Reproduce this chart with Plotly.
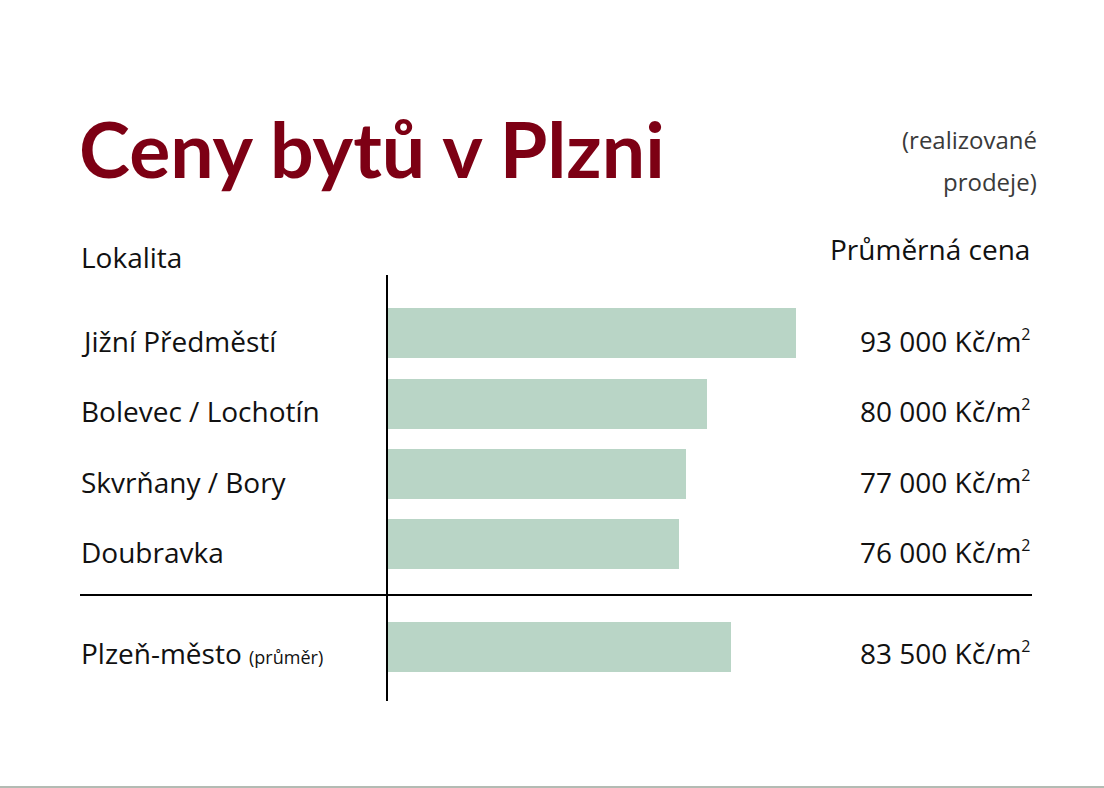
import plotly.graph_objects as go

# ---- data ----
locations = ["Jižní Předměstí", "Bolevec / Lochotín", "Skvrňany / Bory", "Doubravka"]
prices = [93000, 80000, 77000, 76000]
avg_label = "Plzeň-město"
avg_note = "(průměr)"
avg_price = 83500

title_text = "Ceny bytů v Plzni"
subtitle_lines = ["(realizované", "prodeje)"]
col_left = "Lokalita"
col_right = "Průměrná cena"
unit = " Kč/m<sup><span style='font-size:16px'>2</span></sup>"

# ---- style ----
W, H = 1104, 788
BAR = "#b9d5c6"
RED = "#7d0014"
TXT = "#111111"
FONT = "Open Sans"
ROW_SHIFT = -8


def px_x(p):
    return p / W


def px_y(p):
    return 1 - p / H


def fmt(v):
    return f"{v:,}".replace(",", " ") + unit


x_range = [33340, 127590]
x_dom = [px_x(388), px_x(1032)]

fig = go.Figure()
fig.add_trace(go.Bar(
    x=prices, y=locations, orientation="h", marker=dict(color=BAR, line=dict(width=0)),
    width=0.71, xaxis="x", yaxis="y", hoverinfo="skip", showlegend=False,
))
fig.add_trace(go.Bar(
    x=[avg_price], y=[avg_label], orientation="h", marker=dict(color=BAR, line=dict(width=0)),
    width=0.71, xaxis="x2", yaxis="y2", hoverinfo="skip", showlegend=False,
))

ann = []
# title
ann.append(dict(text=f"<b>{title_text}</b>", x=px_x(77), y=px_y(148), xref="paper", yref="paper",
                xanchor="left", yanchor="middle", showarrow=False,
                font=dict(family="Lato", size=77, color=RED, weight=900)))
# subtitle
for i, line in enumerate(subtitle_lines):
    ann.append(dict(text=line, x=px_x(1039), y=px_y(140 + 42 * i), xref="paper", yref="paper",
                    xanchor="right", yanchor="middle", showarrow=False,
                    font=dict(family=FONT, size=24, color="#3a3a3a")))
# column headers
ann.append(dict(text=col_left, x=px_x(79), y=px_y(257), xref="paper", yref="paper",
                xanchor="left", yanchor="middle", showarrow=False,
                font=dict(family=FONT, size=28, color=TXT)))
ann.append(dict(text=col_right, x=px_x(1032), y=px_y(249), xref="paper", yref="paper",
                xanchor="right", yanchor="middle", showarrow=False,
                font=dict(family=FONT, size=28, color=TXT)))
# row labels and values
for loc, v in zip(locations, prices):
    ann.append(dict(text=loc, x=px_x(79), y=loc, xref="paper", yref="y",
                    xanchor="left", yanchor="middle", showarrow=False, yshift=ROW_SHIFT,
                    font=dict(family=FONT, size=28, color=TXT)))
    ann.append(dict(text=fmt(v), x=px_x(1033), y=loc, xref="paper", yref="y",
                    xanchor="right", yanchor="middle", showarrow=False, yshift=ROW_SHIFT,
                    font=dict(family=FONT, size=28, color=TXT)))
ann.append(dict(text=f"{avg_label} <span style='font-size:18px'>{avg_note}</span>",
                x=px_x(79), y=avg_label, xref="paper", yref="y2",
                xanchor="left", yanchor="middle", showarrow=False, yshift=ROW_SHIFT + 2,
                font=dict(family=FONT, size=28, color=TXT)))
ann.append(dict(text=fmt(avg_price), x=px_x(1033), y=avg_label, xref="paper", yref="y2",
                xanchor="right", yanchor="middle", showarrow=False, yshift=ROW_SHIFT + 2,
                font=dict(family=FONT, size=28, color=TXT)))

shapes = [
    dict(type="line", xref="paper", yref="paper", x0=px_x(387), x1=px_x(387),
         y0=px_y(275), y1=px_y(701), line=dict(color="#000000", width=2)),
    dict(type="line", xref="paper", yref="paper", x0=px_x(80), x1=px_x(1032),
         y0=px_y(595), y1=px_y(595), line=dict(color="#000000", width=2)),
    dict(type="line", xref="paper", yref="paper", x0=0, x1=1,
         y0=px_y(787), y1=px_y(787), line=dict(color="#9aa59a", width=1.5)),
]

axis_hidden = dict(showgrid=False, zeroline=False, showticklabels=False, showline=False, ticks="")
fig.update_layout(
    width=W, height=H,
    margin=dict(l=0, r=0, t=0, b=0),
    paper_bgcolor="white", plot_bgcolor="rgba(0,0,0,0)",
    xaxis=dict(domain=x_dom, range=x_range, anchor="y", **axis_hidden),
    yaxis=dict(domain=[px_y(579.2), px_y(297.8)], type="category",
               categoryorder="array", categoryarray=locations, range=[3.5, -0.5],
               anchor="x", **axis_hidden),
    xaxis2=dict(domain=x_dom, range=x_range, anchor="y2", **axis_hidden),
    yaxis2=dict(domain=[px_y(682.2), px_y(611.8)], type="category", range=[0.5, -0.5],
                anchor="x2", **axis_hidden),
    annotations=ann,
    shapes=shapes,
    showlegend=False,
    bargap=0,
)

fig.write_html("out.html", config={"displayModeBar": False},
               post_script="document.body.style.margin='0';document.body.style.overflow='hidden';")
